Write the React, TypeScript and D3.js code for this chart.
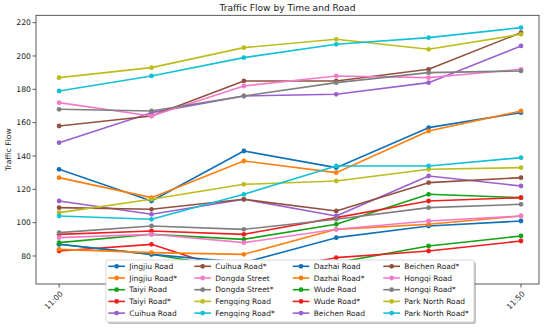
import React from "react";
import * as d3 from "d3";

const times = ["11:00", "11:10", "11:20", "11:30", "11:40", "11:50"];

const seriesNames = [
  "Jingjiu Road", "Jingjiu Road*", "Taiyi Road", "Taiyi Road*", "Cuihua Road",
  "Cuihua Road*", "Dongda Street", "Dongda Street*", "Fengqing Road", "Fengqing Road*",
  "Dazhai Road", "Dazhai Road*", "Wude Road", "Wude Road*", "Beichen Road",
  "Beichen Road*", "Hongqi Road", "Hongqi Road*", "Park North Road", "Park North Road*",
];

const jingjiu = [132, 113, 143, 133, 157, 166];
const jingjiuStar = [127, 115, 137, 130, 155, 167];
const taiyi = [87, 81, 72, 76, 86, 92];
const taiyiStar = [83, 87, 69, 79, 83, 89];
const cuihua = [148, 166, 176, 177, 184, 206];
const cuihuaStar = [158, 164, 185, 185, 192, 214];
const dongda = [172, 164, 182, 188, 187, 192];
const dongdaStar = [168, 167, 176, 184, 190, 191];
const fengqing = [187, 193, 205, 210, 204, 213];
const fengqingStar = [179, 188, 199, 207, 211, 217];
const dazhai = [87, 81, 76, 91, 98, 101];
const dazhaiStar = [84, 82, 81, 96, 99, 104];
const wude = [88, 93, 90, 99, 117, 115];
const wudeStar = [93, 95, 93, 103, 113, 115];
const beichen = [113, 105, 114, 104, 128, 122];
const beichenStar = [109, 108, 114, 107, 124, 127];
const hongqi = [91, 93, 88, 96, 101, 104];
const hongqiStar = [94, 98, 96, 102, 109, 111];
const parkNorth = [106, 114, 123, 125, 132, 133];
const parkNorthStar = [104, 102, 117, 134, 134, 139];

const yTicks = [80, 100, 120, 140, 160, 180, 200, 220];

const palette = [
  "#1171b8", "#ff7f0e", "#14a314", "#f01e1e", "#9a60cf",
  "#92503f", "#f47bcb", "#7f7f7f", "#bcbd1c", "#12c1d6",
];

const allValues = [
  jingjiu, jingjiuStar, taiyi, taiyiStar, cuihua,
  cuihuaStar, dongda, dongdaStar, fengqing, fengqingStar,
  dazhai, dazhaiStar, wude, wudeStar, beichen,
  beichenStar, hongqi, hongqiStar, parkNorth, parkNorthStar,
];

const W = 550;
const H = 328;
const AX = { left: 36, right: 539, top: 15.3, bottom: 284 };
const FONT = "DejaVu Sans, sans-serif";

export default function App() {
  const x = d3.scaleLinear().domain([-0.25, 5.195]).range([AX.left, AX.right]);
  const y = d3.scaleLinear().domain([63.2, 224.4]).range([AX.bottom, AX.top]);
  const line = d3
    .line<number>()
    .x((_, i) => x(i))
    .y((d) => y(d));

  const legend = { x: 106, y: 260, w: 368, h: 62 };
  const colHandleX = [108.3, 194.3, 292.7, 383.3];
  const rowY0 = 266.3;
  const rowStep = 11.7;

  return (
    <svg
      width={W}
      height={H}
      style={{ position: "absolute", left: 0, top: 0, background: "#fff" }}
      fontFamily={FONT}
    >
      <rect x={0} y={0} width={W} height={H} fill="#fff" />
      {/* title */}
      <text x={(AX.left + AX.right) / 2} y={10.6} fontSize={9.1} textAnchor="middle" fill="#222">
        Traffic Flow by Time and Road
      </text>
      {/* y label */}
      <text
        transform={`translate(10.8, ${(AX.top + AX.bottom) / 2}) rotate(-90)`}
        fontSize={7.6}
        textAnchor="middle"
        fill="#222"
      >
        Traffic Flow
      </text>
      {/* y ticks */}
      {yTicks.map((t) => (
        <g key={t}>
          <line x1={AX.left - 3.5} x2={AX.left} y1={y(t)} y2={y(t)} stroke="#333" strokeWidth={0.8} />
          <text x={AX.left - 5} y={y(t)} dy="0.35em" fontSize={7.7} textAnchor="end" fill="#222">
            {t}
          </text>
        </g>
      ))}
      {/* x ticks */}
      {times.map((t, i) => (
        <g key={t}>
          <line x1={x(i)} x2={x(i)} y1={AX.bottom} y2={AX.bottom + 3.5} stroke="#333" strokeWidth={0.8} />
          <text
            transform={`translate(${x(i) + 2.5}, ${AX.bottom + 8.5}) rotate(-45)`}
            fontSize={7.7}
            textAnchor="end"
            dy="0.35em"
            fill="#222"
          >
            {t}
          </text>
        </g>
      ))}
      {/* series */}
      <g>
        {allValues.map((vals, si) => {
          const c = palette[si % 10];
          return (
            <g key={seriesNames[si]}>
              <path d={line(vals) || ""} fill="none" stroke={c} strokeWidth={1.6} strokeLinejoin="round" />
              {vals.map((v, i) => (
                <circle key={i} cx={x(i)} cy={y(v)} r={2.4} fill={c} />
              ))}
            </g>
          );
        })}
      </g>
      {/* frame */}
      <rect
        x={AX.left}
        y={AX.top}
        width={AX.right - AX.left}
        height={AX.bottom - AX.top}
        fill="none"
        stroke="#333"
        strokeWidth={0.8}
      />
      {/* legend */}
      <rect x={legend.x + 2} y={legend.y + 2} width={legend.w} height={legend.h} rx={2} fill="#888" opacity={0.5} />
      <rect
        x={legend.x}
        y={legend.y}
        width={legend.w}
        height={legend.h}
        rx={2}
        fill="#fff"
        stroke="#cfcfcf"
        strokeWidth={0.8}
      />
      {seriesNames.map((name, si) => {
        const col = Math.floor(si / 5);
        const row = si % 5;
        const hx = colHandleX[col];
        const hy = rowY0 + row * rowStep;
        const c = palette[si % 10];
        return (
          <g key={name}>
            <line x1={hx} x2={hx + 16.7} y1={hy} y2={hy} stroke={c} strokeWidth={1.6} />
            <circle cx={hx + 8.35} cy={hy} r={2.4} fill={c} />
            <text x={hx + 21} y={hy} dy="0.35em" fontSize={7.5} fill="#222">
              {name}
            </text>
          </g>
        );
      })}
    </svg>
  );
}
